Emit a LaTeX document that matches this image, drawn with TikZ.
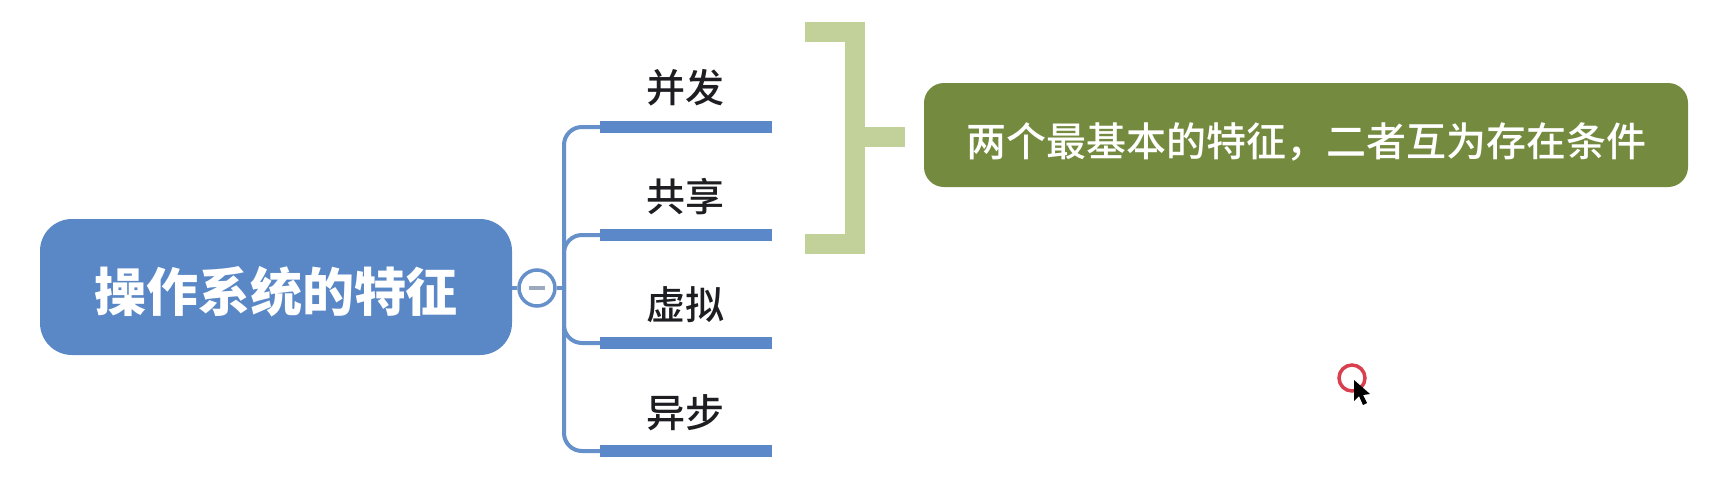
\documentclass[tikz,border=0pt]{standalone}
\usepackage{fontspec}
\setmainfont{Noto Sans CJK SC}
\newfontfamily\cjkmedium{Noto Sans CJK SC Medium}
\definecolor{rootblue}{HTML}{5A88C6}
\definecolor{linkblue}{HTML}{6590CA}
\definecolor{barblue}{HTML}{5A88C8}
\definecolor{braceGreen}{HTML}{C1D199}
\definecolor{noteGreen}{HTML}{748B3F}
\definecolor{ringRed}{HTML}{D8404F}
\definecolor{labelInk}{HTML}{1E1E22}
\definecolor{minusInk}{HTML}{9CA8BE}
\tikzset{
  x=1pt,y=-1pt,
  rootbox/.style={fill=rootblue,rounded corners=32pt,minimum width=472pt,minimum height=136pt,inner sep=0pt,text=white,text height=49pt,text depth=0pt,font=\fontsize{52}{52}\selectfont\bfseries},
  notebox/.style={fill=noteGreen,rounded corners=20pt,minimum width=764pt,minimum height=104pt,inner sep=0pt,text=white,text height=42pt,text depth=0pt,font=\fontsize{40}{40}\cjkmedium},
  topiclabel/.style={text=labelInk,inner sep=0pt,font=\fontsize{39}{39}\cjkmedium},
  linkline/.style={draw=linkblue,line width=4pt},
  topicbar/.style={draw=barblue,line width=12pt},
  togglering/.style={circle,draw=linkblue,line width=3.5pt,fill=white,minimum size=36pt,inner sep=0pt},
  bracketline/.style={draw=braceGreen,line width=20pt}
}
\begin{document}
\begin{tikzpicture}
\useasboundingbox (0,0) rectangle (1733,488);
\fill[white] (0,0) rectangle (1733,488);
% root
\node[rootbox] (root) at (276,287) {操作系统的特征};
\node[togglering] (toggle) at (537,288) {};
\coordinate (junction) at (564,288);
\draw[linkline] (root.east |- toggle) -- (toggle.west);
\draw[linkline] (toggle.east) -- (junction);
% bars
\coordinate (b1l) at (600,127); \coordinate (b1r) at (772,127);
\coordinate (b2l) at (600,235); \coordinate (b2r) at (772,235);
\coordinate (b3l) at (600,343); \coordinate (b3r) at (772,343);
\coordinate (b4l) at (600,451); \coordinate (b4r) at (772,451);
% branches
\draw[linkline,rounded corners=18pt] (b1l) -- (564,127) -- (564,451) -- (b4l);
\draw[linkline,rounded corners=18pt] (b2l) -- (564,235) -- (junction);
\draw[linkline,rounded corners=18pt] (b3l) -- (564,343) -- (junction);
\draw[topicbar] (b1l) -- (b1r);
\draw[topicbar] (b2l) -- (b2r);
\draw[topicbar] (b3l) -- (b3r);
\draw[topicbar] (b4l) -- (b4r);
% minus
\draw[draw=minusInk,line width=4pt] (529,288) -- (545,288);
% labels
\node[topiclabel] (t1) at (685,88) {并发};
\node[topiclabel] (t2) at (685,197) {共享};
\node[topiclabel] (t3) at (685,305) {虚拟};
\node[topiclabel] (t4) at (685,413) {异步};
% bracket
\coordinate (bt) at (805,32); \coordinate (bb) at (805,244);
\coordinate (stubEnd) at (905,137);
\draw[bracketline,miter limit=10] (bt) -- (855,32) -- (855,244) -- (bb);
\draw[bracketline] (855,137) -- (stubEnd);
% note
\node[notebox] (note) at (1306,135) {两个最基本的特征，二者互为存在条件};
% cursor
\node[circle,draw=ringRed,line width=3.5pt,minimum size=26pt,inner sep=0pt,fill=white] (ring) at (1352,378) {};
\fill[black] (1354,380) -- (1354,401) -- (1359,396) -- (1363,405) -- (1367,403) -- (1363,395) -- (1370,394) -- cycle;
\end{tikzpicture}
\end{document}
